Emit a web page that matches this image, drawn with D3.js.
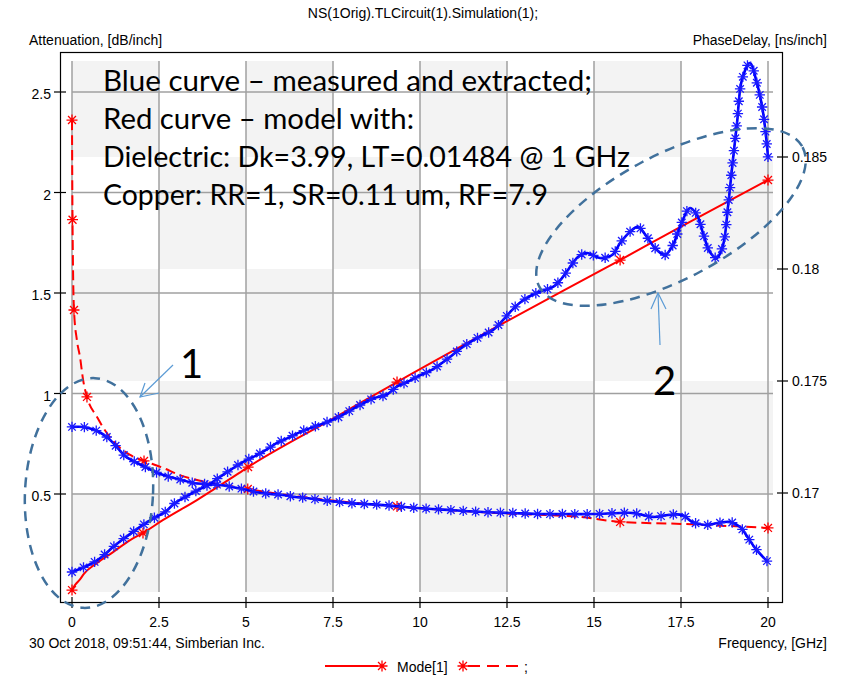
<!DOCTYPE html>
<html>
<head>
<meta charset="utf-8">
<script src="https://cdn.jsdelivr.net/npm/d3@7"></script>
<style>
body { margin: 0; background: #fff; }
text { font-family: "Liberation Sans", Arial, sans-serif; }
</style>
</head>
<body>
<script>
// ---- data ----
var freqTicks = [0, 2.5, 5, 7.5, 10, 12.5, 15, 17.5, 20];
var freqLabels = ["0", "2.5", "5", "7.5", "10", "12.5", "15", "17.5", "20"];
var attTicks = [0.5, 1, 1.5, 2, 2.5];
var attLabels = ["0.5", "1", "1.5", "2", "2.5"];
var pdTicks = [0.17, 0.175, 0.18, 0.185];
var pdLabels = ["0.17", "0.175", "0.18", "0.185"];

// measured & extracted (blue), attenuation dB/inch
var measAttF = [0, 0.29, 0.6, 0.89, 1.18, 1.47, 1.75, 2.04, 2.36, 2.67, 2.96, 3.3, 3.62, 3.91, 4.25, 4.6, 4.91,
  5.32, 5.6, 5.89, 6.2, 6.55, 6.93, 7.33, 7.61, 8.28, 8.65, 9.05, 9.34, 9.63, 10, 10.34, 10.63, 10.86, 11.15,
  11.44, 11.81, 12.1, 12.39, 12.59, 12.87, 13.22, 13.53, 13.82, 14.08, 14.31, 14.54, 14.8, 15.17, 15.52, 15.75,
  16.03, 16.26, 16.52, 16.75, 17.04, 17.27, 17.47, 17.76, 17.96, 18.13, 18.33, 18.53, 18.71, 18.85, 18.97,
  19.11, 19.25, 19.48, 19.68, 19.86, 20];
var measAtt = [0.112, 0.132, 0.157, 0.192, 0.236, 0.276, 0.311, 0.346, 0.381, 0.41, 0.455, 0.49, 0.52, 0.545,
  0.585, 0.625, 0.659, 0.694, 0.722, 0.754, 0.778, 0.808, 0.833, 0.858, 0.878, 0.943, 0.975, 0.995, 1.035,
  1.057, 1.09, 1.117, 1.152, 1.182, 1.222, 1.256, 1.291, 1.316, 1.366, 1.405, 1.452, 1.49, 1.512, 1.53, 1.574,
  1.629, 1.679, 1.699, 1.674, 1.689, 1.749, 1.804, 1.829, 1.779, 1.724, 1.689, 1.739, 1.829, 1.923, 1.888,
  1.799, 1.704, 1.674, 1.739, 1.928, 2.127, 2.346, 2.56, 2.644, 2.545, 2.396, 2.177];

// measured & extracted (blue), phase delay ns/inch
var measPdF = [0, 0.32, 0.66, 1, 1.29, 1.52, 1.87, 2.16, 2.47, 2.82, 3.16, 3.48, 3.88, 4.25, 4.6, 4.91, 5.32,
  5.69, 6.06, 6.41, 6.75, 7.13, 7.41, 7.99, 8.94, 9.91, 10.86, 11.81, 12.59, 13.53, 14.2, 14.97, 15.75, 16.12,
  16.7, 17.13, 17.53, 17.82, 18.19, 18.56, 18.9, 19.2, 19.43, 19.63, 19.97];
var measPd = [0.17295, 0.17295, 0.17281, 0.1725, 0.17205, 0.17165, 0.17134, 0.17112, 0.17089, 0.17071,
  0.17058, 0.17045, 0.1704, 0.17036, 0.17027, 0.17018, 0.17003, 0.16996, 0.16991, 0.16982, 0.16978, 0.16969,
  0.16964, 0.16955, 0.16946, 0.16933, 0.16924, 0.16915, 0.16911, 0.16906, 0.16906, 0.16906, 0.16911, 0.16911,
  0.16893, 0.16902, 0.16902, 0.16871, 0.16857, 0.16866, 0.16871, 0.16848, 0.16799, 0.16754, 0.16696];

// model (red), attenuation
var modelAttF = [0, 0.1, 0.23, 0.33, 0.72, 1.18, 1.67, 2.04, 2.62, 3.59, 4.54, 5.06, 7.5, 9.34, 12.5, 15.75, 17.5, 20];
var modelAtt = [0.022, 0.05, 0.075, 0.1, 0.157, 0.211, 0.271, 0.306, 0.371, 0.47, 0.575, 0.634, 0.875, 1.057,
  1.36, 1.664, 1.83, 2.062];
var modelAttMarks = [0, 2.04, 5.06, 9.34, 15.75, 20];

// model (red), phase delay
var modelPdF = [0, 0.015, 0.057, 0.14, 0.23, 0.32, 0.43, 0.72, 1, 1.29, 1.67, 2.07, 2.62, 3.1, 3.59, 4, 4.54,
  5.05, 6, 7, 8, 9.34, 11, 12.5, 14.6, 15.75, 17.5, 20];
var modelPd = [0.18665, 0.1822, 0.17817, 0.17683, 0.17607, 0.17504, 0.17429, 0.17339, 0.17268, 0.17214,
  0.1717, 0.17143, 0.17112, 0.1708, 0.17058, 0.17045, 0.17031, 0.17018, 0.16995, 0.16975, 0.16958, 0.1694,
  0.16922, 0.16908, 0.16893, 0.16871, 0.16862, 0.16844];
var modelPdMarks = [0, 0.015, 0.057, 0.43, 2.07, 5.05, 9.34, 15.75, 20];

var noteLines = ["Blue curve \u2013 measured and extracted;", "Red curve \u2013 model with:",
  "Dielectric: Dk=3.99, LT=0.01484 @ 1 GHz", "Copper: RR=1, SR=0.11 um, RF=7.9"];
var noteWidths = [489, 311, 527, 445];

// ---- layout ----
var w = 849, h = 677;
var frame = {left: 60, top: 52, right: 782, bottom: 602};
var plot = {left: 72, top: 61, right: 773, bottom: 592};

var svg = d3.select("body").append("svg").attr("width", w).attr("height", h);

var x = d3.scaleLinear().domain([0, 20]).range([72, 768]);
var yL = d3.scaleLinear().domain([0.5, 2.5]).range([494, 92]);
var yR = d3.scaleLinear().domain([0.17, 0.185]).range([493, 157]);

function zip(fs, vs) {
  return fs.map(function (f, i) { return [f, vs[i]]; });
}

// checkerboard shading: columns from frequency grid, rows from the right axis ticks
var colEdges = freqTicks.slice(0, -1).map(x).concat([plot.right]);
var rowEdges = [plot.top].concat(pdTicks.slice().reverse().map(yR)).concat([plot.bottom]);
var cells = [];
for (var r = 0; r < rowEdges.length - 1; r++) {
  for (var c = 0; c < colEdges.length - 1; c++) {
    if ((r + c) % 2 === 0) cells.push({x0: colEdges[c], x1: colEdges[c + 1], y0: rowEdges[r], y1: rowEdges[r + 1]});
  }
}
svg.selectAll("rect.band").data(cells).enter().append("rect")
  .attr("x", function (d) { return d.x0; })
  .attr("y", function (d) { return d.y0; })
  .attr("width", function (d) { return d.x1 - d.x0; })
  .attr("height", function (d) { return d.y1 - d.y0; })
  .attr("fill", "#f3f3f3");

// grid
svg.selectAll("line.vgrid").data(freqTicks).enter().append("line")
  .attr("x1", x).attr("x2", x).attr("y1", plot.top).attr("y2", plot.bottom)
  .attr("stroke", "#a0a0a0").attr("stroke-width", 1.5);
svg.selectAll("line.hgrid").data(attTicks).enter().append("line")
  .attr("x1", plot.left).attr("x2", plot.right).attr("y1", yL).attr("y2", yL)
  .attr("stroke", "#a0a0a0").attr("stroke-width", 1.5);

// frame
svg.append("rect")
  .attr("x", frame.left + 0.5).attr("y", frame.top + 0.5)
  .attr("width", frame.right - frame.left).attr("height", frame.bottom - frame.top)
  .attr("fill", "none").attr("stroke", "#000").attr("stroke-width", 1.2);

// ticks
svg.selectAll("line.lt").data(attTicks).enter().append("line")
  .attr("x1", frame.left - 6).attr("x2", frame.left + 6).attr("y1", yL).attr("y2", yL)
  .attr("stroke", "#000").attr("stroke-width", 1.2);
svg.selectAll("line.rt").data(pdTicks).enter().append("line")
  .attr("x1", frame.right - 5).attr("x2", frame.right + 6).attr("y1", yR).attr("y2", yR)
  .attr("stroke", "#000").attr("stroke-width", 1.2);
svg.selectAll("line.bt").data(freqTicks).enter().append("line")
  .attr("x1", x).attr("x2", x).attr("y1", frame.bottom - 5).attr("y2", frame.bottom + 6)
  .attr("stroke", "#000").attr("stroke-width", 1.2);

var axisFont = 14;
svg.selectAll("text.ll").data(attTicks).enter().append("text")
  .attr("x", 51).attr("y", function (d) { return yL(d) + 7; })
  .attr("text-anchor", "end").attr("font-size", axisFont)
  .text(function (d, i) { return attLabels[i]; });
svg.selectAll("text.rl").data(pdTicks).enter().append("text")
  .attr("x", 792).attr("y", function (d) { return yR(d) + 5; })
  .attr("font-size", axisFont)
  .text(function (d, i) { return pdLabels[i]; });
svg.selectAll("text.bl").data(freqTicks).enter().append("text")
  .attr("x", x).attr("y", 627)
  .attr("text-anchor", "middle").attr("font-size", axisFont)
  .text(function (d, i) { return freqLabels[i]; });

svg.append("text").attr("x", 423).attr("y", 18).attr("text-anchor", "middle")
  .attr("font-size", axisFont).text("NS(1Orig).TLCircuit(1).Simulation(1);");
svg.append("text").attr("x", 29).attr("y", 45).attr("font-size", axisFont).text("Attenuation, [dB/inch]");
svg.append("text").attr("x", 827).attr("y", 45).attr("text-anchor", "end")
  .attr("font-size", axisFont).text("PhaseDelay, [ns/inch]");
svg.append("text").attr("x", 29).attr("y", 648).attr("font-size", axisFont)
  .text("30 Oct 2018, 09:51:44, Simberian Inc.");
svg.append("text").attr("x", 827).attr("y", 648).attr("text-anchor", "end")
  .attr("font-size", axisFont).text("Frequency, [GHz]");

// star marker
function starPath(r) {
  var d = r * 0.72;
  return "M" + (-r) + ",0L" + r + ",0M0," + (-r) + "L0," + r +
    "M" + (-d) + "," + (-d) + "L" + d + "," + d + "M" + (-d) + "," + d + "L" + d + "," + (-d);
}

var lineAtt = d3.line().x(function (d) { return x(d[0]); }).y(function (d) { return yL(d[1]); });
var linePd = d3.line().x(function (d) { return x(d[0]); }).y(function (d) { return yR(d[1]); });

// model curves (red)
svg.append("path").datum(zip(modelAttF, modelAtt))
  .attr("d", lineAtt.curve(d3.curveMonotoneX))
  .attr("fill", "none").attr("stroke", "#ff0000").attr("stroke-width", 2);
svg.append("path").datum(zip(modelPdF, modelPd))
  .attr("d", linePd.curve(d3.curveMonotoneX))
  .attr("fill", "none").attr("stroke", "#ff0000").attr("stroke-width", 2)
  .attr("stroke-dasharray", "10,5");

function markValue(fs, vs, f) { return vs[fs.indexOf(f)]; }
svg.selectAll("path.ram").data(modelAttMarks).enter().append("path")
  .attr("d", starPath(5.5))
  .attr("transform", function (f) { return "translate(" + x(f) + "," + yL(markValue(modelAttF, modelAtt, f)) + ")"; })
  .attr("stroke", "#ff0000").attr("stroke-width", 1.3).attr("fill", "none");
svg.selectAll("path.rpm").data(modelPdMarks).enter().append("path")
  .attr("d", starPath(5.5))
  .attr("transform", function (f) { return "translate(" + x(f) + "," + yR(markValue(modelPdF, modelPd, f)) + ")"; })
  .attr("stroke", "#ff0000").attr("stroke-width", 1.3).attr("fill", "none");

// measured curves (blue) with markers at equal spacing along the curve
function blueCurve(pts, line) {
  var p = svg.append("path").datum(pts)
    .attr("d", line.curve(d3.curveCatmullRom.alpha(0.5)))
    .attr("fill", "none").attr("stroke", "#0000ff").attr("stroke-width", 2.6);
  var node = p.node(), L = node.getTotalLength(), marks = [];
  for (var s = 0; s < L - 4; s += 12.4) marks.push(node.getPointAtLength(s));
  marks.push(node.getPointAtLength(L));
  svg.append("g").selectAll("path").data(marks).enter().append("path")
    .attr("d", starPath(5.2))
    .attr("transform", function (d) { return "translate(" + d.x + "," + d.y + ")"; })
    .attr("stroke", "#1a1aff").attr("stroke-width", 1.3).attr("fill", "none");
}
blueCurve(zip(measAttF, measAtt), lineAtt);
blueCurve(zip(measPdF, measPd), linePd);

// annotation text
svg.selectAll("text.note").data(noteLines).enter().append("text")
  .attr("x", 103).attr("y", function (d, i) { return 91 + i * 38; })
  .style("font-family", "Lato, 'Open Sans', sans-serif").attr("font-size", 28).attr("fill", "#000")
  .attr("textLength", function (d, i) { return noteWidths[i]; })
  .attr("lengthAdjust", "spacingAndGlyphs")
  .text(function (d) { return d; });

// ellipses and arrows
var annBlue = "#41719c";
svg.append("ellipse").attr("cx", 0).attr("cy", 0).attr("rx", 64).attr("ry", 115)
  .attr("transform", "translate(89,493) rotate(3)")
  .attr("fill", "none").attr("stroke", annBlue).attr("stroke-width", 2.5).attr("stroke-dasharray", "10,7");
svg.append("ellipse").attr("cx", 0).attr("cy", 0).attr("rx", 149).attr("ry", 62)
  .attr("transform", "translate(671,217) rotate(-28)")
  .attr("fill", "none").attr("stroke", annBlue).attr("stroke-width", 2.5).attr("stroke-dasharray", "10,7");

var arrowCol = "#5b9bd5";
svg.append("line").attr("x1", 173).attr("y1", 365).attr("x2", 140).attr("y2", 397)
  .attr("stroke", arrowCol).attr("stroke-width", 1.2);
svg.append("polyline").attr("points", "145,383 140,397 159,393")
  .attr("fill", "none").attr("stroke", arrowCol).attr("stroke-width", 1.2);
svg.append("line").attr("x1", 660).attr("y1", 345).attr("x2", 658).attr("y2", 293)
  .attr("stroke", arrowCol).attr("stroke-width", 1.2);
svg.append("polyline").attr("points", "651,309 658,293 666,309")
  .attr("fill", "none").attr("stroke", arrowCol).attr("stroke-width", 1.2);

svg.append("text").attr("x", 180).attr("y", 378).style("font-family", "Lato, 'Open Sans', sans-serif")
  .attr("font-size", 40).text("1");
svg.append("text").attr("x", 653).attr("y", 395).style("font-family", "Lato, 'Open Sans', sans-serif")
  .attr("font-size", 40).text("2");

// legend
var lg = svg.append("g");
lg.append("line").attr("x1", 325).attr("x2", 378).attr("y1", 666).attr("y2", 666)
  .attr("stroke", "#ff0000").attr("stroke-width", 2);
lg.append("path").attr("d", starPath(5.5)).attr("transform", "translate(382,666)")
  .attr("stroke", "#ff0000").attr("stroke-width", 1.3).attr("fill", "none");
lg.append("text").attr("x", 397).attr("y", 672).attr("font-size", axisFont).text("Mode[1]");
lg.append("path").attr("d", starPath(5.5)).attr("transform", "translate(463,666)")
  .attr("stroke", "#ff0000").attr("stroke-width", 1.3).attr("fill", "none");
lg.append("line").attr("x1", 468).attr("x2", 522).attr("y1", 666).attr("y2", 666)
  .attr("stroke", "#ff0000").attr("stroke-width", 2).attr("stroke-dasharray", "12,7");
lg.append("text").attr("x", 524).attr("y", 672).attr("font-size", axisFont).text(";");
</script>
</body>
</html>
